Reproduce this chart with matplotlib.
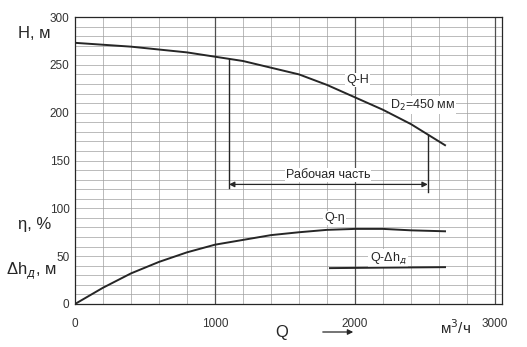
import numpy as np
import matplotlib
matplotlib.use("Agg")
import matplotlib.pyplot as plt

plt.rcParams['font.family'] = ['Liberation Sans', 'DejaVu Sans']

# pump characteristic, impeller D2 = 450 mm
q_head = [0, 400, 800, 1200, 1400, 1600, 1800, 2000, 2200, 2400, 2643]
head = [273, 269, 263, 254, 247, 240, 229, 216, 203, 188, 166]

q_eff = [0, 200, 400, 600, 800, 1000, 1200, 1400, 1600, 1800, 2000, 2200, 2400, 2643]
eff = [0, 17, 32, 44, 54, 62, 67, 72, 75, 77.5, 78.5, 78.5, 77, 76]

q_npsh = [1821, 2200, 2643]
npsh = [37.5, 38, 38.5]

work_range = [1100, 2520]
y_ticks = [0, 50, 100, 150, 200, 250, 300]
x_ticks = [0, 1000, 2000, 3000]

ink = '#262626'
W, H = 527, 347

fig = plt.figure(figsize=(W / 100, H / 100), dpi=100)
ax = fig.add_axes([75 / W, 43 / H, 427 / W, 287 / H])
ax.set_xlim(0, 3050)
ax.set_ylim(0, 300)

# millimetre-paper style grid
for y in range(10, 300, 10):
    ax.axhline(y, color='#a0a0a0', lw=0.5, zorder=0)
for x in range(200, 3050, 200):
    major = x % 1000 == 0
    ax.axvline(x, color='#505050' if major else '#a0a0a0',
               lw=0.9 if major else 0.5, zorder=0)

for s in ax.spines.values():
    s.set_color(ink)
    s.set_linewidth(0.9)

ax.set_yticks(y_ticks)
ax.set_xticks(x_ticks)
ax.tick_params(length=0, labelsize=8.5, colors='#333333', pad=4)
ax.tick_params(axis='x', pad=10)

# curves
ax.plot(q_head, head, color=ink, lw=1.4, zorder=3)
ax.plot(q_eff, eff, color=ink, lw=1.4, zorder=3)
ax.plot(q_npsh, npsh, color=ink, lw=1.4, zorder=3)

box = dict(facecolor='white', edgecolor='none', pad=0.8)
ax.text(2021, 234, 'Q-H', fontsize=9, color=ink, ha='center', va='center', bbox=box, zorder=2)
ax.text(2479, 208, 'D$_2$=450 мм', fontsize=9, color=ink, ha='center', va='center', bbox=box, zorder=2)
ax.text(1857, 90, 'Q-η', fontsize=9, color=ink, ha='center', va='center', bbox=box, zorder=2)
ax.text(2236, 48, 'Q-Δh$_д$', fontsize=9, color=ink, ha='center', va='center', bbox=box, zorder=2)

# working range markers
h_left = np.interp(work_range[0], q_head, head)
h_right = np.interp(work_range[1], q_head, head)
ax.plot([work_range[0]] * 2, [h_left, 121], color=ink, lw=1.0, zorder=3)
ax.plot([work_range[1]] * 2, [h_right, 117], color=ink, lw=1.0, zorder=3)
ax.annotate('', xy=(work_range[0], 125), xytext=(work_range[1], 125),
            arrowprops=dict(arrowstyle='<|-|>', color=ink, lw=0.9,
                            mutation_scale=8, shrinkA=0, shrinkB=0), zorder=3)
ax.text(1807, 135, 'Рабочая часть', fontsize=9, color=ink, ha='center', va='center',
        bbox=box, zorder=2)

# axis captions
fig.text(34 / W, 1 - 33 / H, 'H, м', fontsize=12, color=ink, ha='center', va='center')
fig.text(35 / W, 1 - 225 / H, 'η, %', fontsize=12, color=ink, ha='center', va='center')
fig.text(31 / W, 1 - 271 / H, 'Δh$_д$, м', fontsize=12, color=ink, ha='center', va='center')
fig.text(282 / W, 1 - 333 / H, 'Q', fontsize=12, color=ink, ha='center', va='center')
fig.text(455 / W, 1 - 328 / H, 'м$^3$/ч', fontsize=11, color=ink, ha='center', va='center')
fig.add_artist(matplotlib.patches.FancyArrowPatch(
    (320 / W, 1 - 332 / H), (356 / W, 1 - 332 / H), transform=fig.transFigure,
    arrowstyle='-|>', mutation_scale=8, color=ink, lw=0.9))

fig.savefig('out.png', dpi=100)
